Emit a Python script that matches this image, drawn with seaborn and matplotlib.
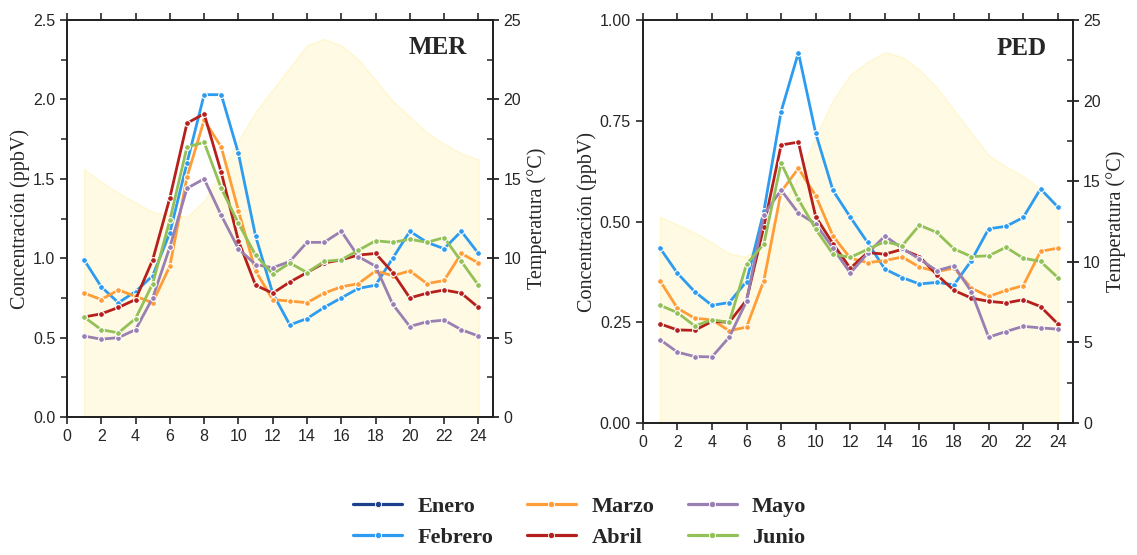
import matplotlib
matplotlib.use("Agg")
import matplotlib.pyplot as plt
from matplotlib.lines import Line2D
from matplotlib.ticker import MultipleLocator
import seaborn as sns
import pandas as pd

# ---------------- data ----------------
hours = list(range(1, 25))
months = ["Enero", "Febrero", "Marzo", "Abril", "Mayo", "Junio"]
colors = ["#1c3f8e", "#2d9cf0", "#ff9e38", "#b5201c", "#9a7fb2", "#93c158"]

mer_feb = [0.99, 0.82, 0.72, 0.79, 0.89, 1.16, 1.60, 2.03, 2.03, 1.66, 1.14, 0.78,
           0.58, 0.62, 0.69, 0.75, 0.81, 0.83, 1.00, 1.17, 1.10, 1.06, 1.17, 1.03]
mer_mar = [0.78, 0.74, 0.80, 0.76, 0.72, 0.95, 1.51, 1.87, 1.70, 1.30, 0.92, 0.74,
           0.73, 0.72, 0.78, 0.82, 0.84, 0.92, 0.89, 0.92, 0.84, 0.86, 1.03, 0.97]
mer_abr = [0.63, 0.65, 0.69, 0.74, 0.99, 1.38, 1.85, 1.91, 1.54, 1.11, 0.83, 0.78,
           0.85, 0.91, 0.97, 0.99, 1.02, 1.03, 0.91, 0.75, 0.78, 0.80, 0.78, 0.69]
mer_may = [0.51, 0.49, 0.50, 0.55, 0.75, 1.07, 1.44, 1.50, 1.27, 1.06, 0.96, 0.94,
           0.98, 1.10, 1.10, 1.17, 1.01, 0.95, 0.71, 0.57, 0.60, 0.61, 0.55, 0.51]
mer_jun = [0.63, 0.55, 0.53, 0.62, 0.84, 1.24, 1.70, 1.73, 1.44, 1.22, 1.02, 0.90,
           0.97, 0.91, 0.98, 0.99, 1.05, 1.11, 1.10, 1.12, 1.10, 1.13, 0.98, 0.83]

ped_feb = [0.434, 0.372, 0.326, 0.292, 0.299, 0.351, 0.525, 0.773, 0.919, 0.719, 0.577, 0.511,
           0.448, 0.382, 0.361, 0.345, 0.349, 0.343, 0.403, 0.482, 0.488, 0.510, 0.581, 0.536]
ped_mar = [0.353, 0.285, 0.260, 0.256, 0.229, 0.238, 0.353, 0.574, 0.632, 0.564, 0.464, 0.409,
           0.398, 0.403, 0.412, 0.387, 0.376, 0.384, 0.335, 0.314, 0.329, 0.341, 0.426, 0.434]
ped_abr = [0.246, 0.231, 0.230, 0.252, 0.250, 0.305, 0.487, 0.690, 0.697, 0.512, 0.445, 0.384,
           0.423, 0.419, 0.431, 0.413, 0.368, 0.329, 0.310, 0.302, 0.298, 0.306, 0.289, 0.246]
ped_may = [0.207, 0.176, 0.165, 0.164, 0.213, 0.302, 0.517, 0.578, 0.521, 0.494, 0.434, 0.372,
           0.421, 0.464, 0.434, 0.407, 0.378, 0.390, 0.326, 0.213, 0.227, 0.240, 0.236, 0.233]
ped_jun = [0.292, 0.274, 0.241, 0.256, 0.250, 0.394, 0.444, 0.645, 0.555, 0.481, 0.419, 0.411,
           0.431, 0.450, 0.440, 0.491, 0.473, 0.432, 0.413, 0.415, 0.436, 0.409, 0.401, 0.361]

mer_temp = [15.6, 14.8, 14.1, 13.5, 12.9, 12.7, 12.6, 13.6, 15.4, 17.4, 19.2, 20.6,
            22.0, 23.4, 23.8, 23.4, 22.5, 21.2, 19.9, 18.9, 17.9, 17.2, 16.6, 16.2]
ped_temp = [12.8, 12.3, 11.8, 11.2, 10.5, 10.3, 11.4, 13.4, 15.3, 17.8, 20.0, 21.6,
            22.4, 23.0, 22.7, 21.9, 20.8, 19.4, 18.0, 16.6, 15.9, 15.3, 14.5, 13.5]

panels = [
    ("MER", {"Febrero": mer_feb, "Marzo": mer_mar, "Abril": mer_abr,
             "Mayo": mer_may, "Junio": mer_jun}, mer_temp, 2.5, 0.5, 0.25),
    ("PED", {"Febrero": ped_feb, "Marzo": ped_mar, "Abril": ped_abr,
             "Mayo": ped_may, "Junio": ped_jun}, ped_temp, 1.0, 0.25, None),
]

# ---------------- style ----------------
sns.set_theme(style="ticks")
plt.rcParams["font.family"] = ["Liberation Sans", "DejaVu Sans"]
serif = ["Liberation Serif", "DejaVu Serif"]
palette = dict(zip(months, colors))

fig = plt.figure(figsize=(11.37, 5.55), dpi=100)
rects = [[0.0589, 0.2486, 0.3747, 0.7153], [0.5653, 0.2378, 0.3780, 0.7261]]

for (name, series, temp, ymax, ymaj, ymin), rect in zip(panels, rects):
    ax = fig.add_axes(rect)
    ax2 = ax.twinx()
    # temperature shading on twin axis, drawn behind
    ax2.fill_between(hours, temp, 0, color="#fffae3", edgecolor="#fff7cf",
                     linewidth=1.0, zorder=0)
    ax2.set_ylim(0, 25)
    ax2.yaxis.set_major_locator(MultipleLocator(5))
    ax2.yaxis.set_minor_locator(MultipleLocator(2.5))
    ax2.tick_params(axis="y", which="major", direction="inout", length=9, width=1.3,
                    labelsize=11.5, pad=3)
    ax2.tick_params(axis="y", which="minor", direction="in", length=4, width=1.1)
    ax2.set_ylabel("Temperatura (°C)", family=serif, fontsize=14.5, labelpad=4)

    ax.set_zorder(ax2.get_zorder() + 1)
    ax.patch.set_visible(False)

    df = pd.DataFrame([(h, m, v) for m, vals in series.items() for h, v in zip(hours, vals)],
                      columns=["Hora", "Mes", "Conc"])
    sns.lineplot(data=df, x="Hora", y="Conc", hue="Mes", palette=palette, ax=ax,
                 marker="o", markersize=4.2, markeredgecolor="white", markeredgewidth=0.8,
                 linewidth=2.0, legend=False, errorbar=None)

    ax.set_xlim(0, 24.85)
    ax.set_ylim(0, ymax)
    ax.xaxis.set_major_locator(MultipleLocator(2))
    ax.yaxis.set_major_locator(MultipleLocator(ymaj))
    if ymin:
        ax.yaxis.set_minor_locator(MultipleLocator(ymin))
    if name == "PED":
        ax.set_yticks([0, 0.25, 0.5, 0.75, 1.0])
        ax.set_yticklabels(["0.00", "0.25", "0.50", "0.75", "1.00"])
    else:
        ax.set_yticks([0, 0.5, 1.0, 1.5, 2.0, 2.5])
        ax.set_yticklabels(["0.0", "0.5", "1.0", "1.5", "2.0", "2.5"])
    ax.tick_params(axis="both", which="major", direction="out", length=5, width=1.2,
                   labelsize=11.5, top=True, labeltop=False)
    ax.tick_params(axis="y", which="minor", direction="out", length=4, width=1.1)
    ax.set_xlabel("")
    ax.set_ylabel("Concentración (ppbV)", family=serif, fontsize=14.5, labelpad=2)
    for a in (ax, ax2):
        for s in a.spines.values():
            s.set_linewidth(1.3)
            s.set_color("#222222")
            s.set_visible(True)
    ax.text(0.94, 0.93, name, transform=ax.transAxes, ha="right", va="center",
            family=serif, fontweight="bold", fontsize=18)

handles = [Line2D([0], [0], color=c, lw=2.3, marker="o", markersize=4.5,
                  markeredgecolor="white", markeredgewidth=0.6) for c in colors]
fig.legend(handles, months, loc="center", bbox_to_anchor=(0.51, 0.059), ncol=3,
           frameon=False, prop={"family": serif, "weight": "bold", "size": 16},
           handlelength=2.2, columnspacing=1.5, handletextpad=0.7, labelspacing=0.45)

fig.savefig("out.png", dpi=100)
